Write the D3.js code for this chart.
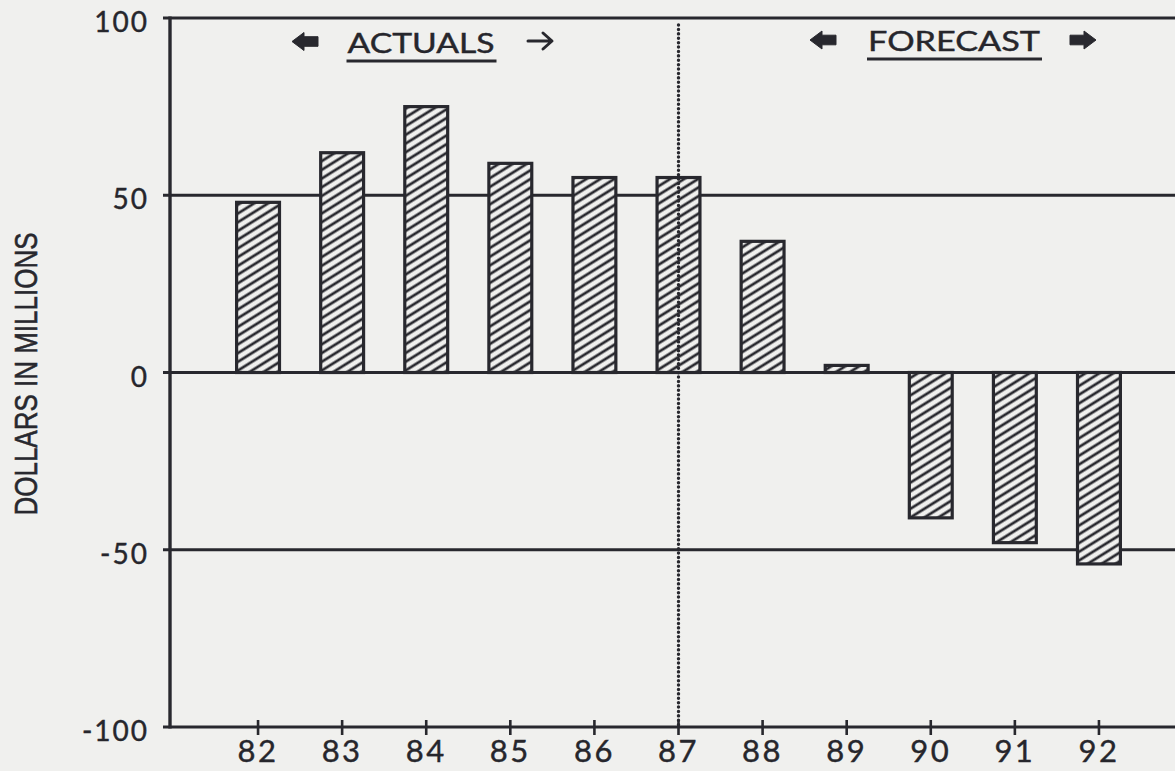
<!DOCTYPE html>
<html>
<head>
<meta charset="utf-8">
<script src="https://cdn.jsdelivr.net/npm/d3@7/dist/d3.min.js"></script>
<style>
  html, body { margin: 0; padding: 0; background: #f0f0ee; }
  svg { display: block; }
  .tick-label { font-family: Lato, "DejaVu Sans", sans-serif; fill: #26262c; stroke: #26262c; stroke-width: 0.4px; }
</style>
</head>
<body>
<svg id="chart" width="1175" height="771"></svg>
<script>
// Fiscal years shown on the horizontal axis
const years = ["82", "83", "84", "85", "86", "87", "88", "89", "90", "91", "92"];
// Net balance per year, dollars in millions (82–87 actual, 88–92 forecast)
const values = [48, 62, 75, 59, 55, 55, 37, 2, -41, -48, -54];
// Vertical axis ticks
const yTicks = [100, 50, 0, -50, -100];
const yTickLabels = ["100", "50", "0", "-50", "-100"];
// Year at which actuals end and forecast begins
const splitYear = "87";
const headerLeft = "ACTUALS";
const headerRight = "FORECAST";
const yTitle = "DOLLARS IN MILLIONS";

const ink = "#28282e";
const paper = "#f0f0ee";
const svg = d3.select("#chart");

const axisX = 170, plotRight = 1175;
const y = d3.scaleLinear().domain([-100, 100]).range([727, 18]);
const x = d3.scaleBand().domain(years).range([216, 1141]).paddingInner(0.49).paddingOuter(0.245);

// Diagonal hatch fill for the bars
const defs = svg.append("defs");
const hatch = defs.append("pattern")
  .attr("id", "hatch")
  .attr("patternUnits", "userSpaceOnUse")
  .attr("width", 12).attr("height", 7.4)
  .attr("patternTransform", "rotate(-32)");
hatch.append("rect").attr("width", 12).attr("height", 7.4).attr("fill", paper);
hatch.append("line")
  .attr("x1", -1).attr("x2", 13).attr("y1", 3.7).attr("y2", 3.7)
  .attr("stroke", ink).attr("stroke-width", 2.7);

// Horizontal rules at every tick value, running the full width
svg.append("g").selectAll("line").data(yTicks).join("line")
  .attr("x1", axisX - 7).attr("x2", plotRight)
  .attr("y1", d => y(d)).attr("y2", d => y(d))
  .attr("stroke", ink)
  .attr("stroke-width", d => (d === 100 || d === -100) ? 3.2 : 2.8);

// Vertical axis line
svg.append("line")
  .attr("x1", axisX).attr("x2", axisX)
  .attr("y1", y(100) - 1.5).attr("y2", y(-100) + 1.5)
  .attr("stroke", ink).attr("stroke-width", 3.4);

// Vertical tick labels
svg.append("g").selectAll("text").data(yTicks).join("text")
  .attr("class", "tick-label")
  .attr("x", 149)
  .attr("y", d => y(d) + 3)
  .attr("text-anchor", "end")
  .attr("dominant-baseline", "central")
  .attr("font-size", 28)
  .attr("letter-spacing", 2)
  .text((d, i) => yTickLabels[i]);

// Bottom axis ticks and year labels
const xCenter = d => x(d) + x.bandwidth() / 2;
svg.append("g").selectAll("line").data(years).join("line")
  .attr("x1", xCenter).attr("x2", xCenter)
  .attr("y1", y(-100) - 7).attr("y2", y(-100) + 8)
  .attr("stroke", ink).attr("stroke-width", 2.6);
svg.append("g").selectAll("text").data(years).join("text")
  .attr("class", "tick-label")
  .attr("x", xCenter)
  .attr("y", 762)
  .attr("text-anchor", "middle")
  .attr("font-size", 31)
  .attr("letter-spacing", 2.5)
  .text(d => d);

// Bars
svg.append("g").selectAll("rect").data(values).join("rect")
  .attr("x", (d, i) => x(years[i]))
  .attr("width", x.bandwidth())
  .attr("y", d => y(Math.max(0, d)))
  .attr("height", d => Math.abs(y(d) - y(0)))
  .attr("fill", "url(#hatch)")
  .attr("stroke", ink)
  .attr("stroke-width", 3.2);

// Dotted divider between actuals and forecast
svg.append("line")
  .attr("x1", xCenter(splitYear)).attr("x2", xCenter(splitYear))
  .attr("y1", 25).attr("y2", y(-100))
  .attr("stroke", ink).attr("stroke-width", 3.4)
  .attr("stroke-linecap", "round")
  .attr("stroke-dasharray", "0.1 4.3");

// Block arrow helper: dir = -1 points left, +1 points right
function blockArrow(cx, cy, dir) {
  const w = 26, head = 12, hh = 9, bh = 4.8;
  const tip = cx + dir * w / 2, base = tip - dir * head, tail = cx - dir * w / 2;
  const p = d3.path();
  p.moveTo(tip, cy);
  p.lineTo(base, cy - hh);
  p.lineTo(base, cy - bh);
  p.lineTo(tail, cy - bh);
  p.lineTo(tail, cy + bh);
  p.lineTo(base, cy + bh);
  p.lineTo(base, cy + hh);
  p.closePath();
  svg.append("path").attr("d", p.toString()).attr("fill", ink)
    .attr("stroke", ink).attr("stroke-width", 1).attr("stroke-linejoin", "round");
}

// Thin line arrow pointing right
function lineArrow(x0, x1, cy) {
  svg.append("path")
    .attr("d", `M${x0},${cy}H${x1 - 1}M${x1 - 9},${cy - 8}L${x1},${cy}L${x1 - 9},${cy + 8}`)
    .attr("fill", "none").attr("stroke", ink).attr("stroke-width", 3)
    .attr("stroke-linecap", "round").attr("stroke-linejoin", "round");
}

// Section headers
function header(label, cx, baseline, width) {
  svg.append("text")
    .attr("class", "tick-label")
    .attr("x", cx).attr("y", baseline)
    .attr("text-anchor", "middle")
    .attr("font-size", 26)
    .attr("textLength", width)
    .attr("lengthAdjust", "spacingAndGlyphs")
    .text(label);
  svg.append("line")
    .attr("x1", cx - width / 2 - 1).attr("x2", cx + width / 2 + 2)
    .attr("y1", baseline + 8).attr("y2", baseline + 8)
    .attr("stroke", ink).attr("stroke-width", 3);
}
header(headerLeft, 421, 53, 147);
blockArrow(305, 41.5, -1);
lineArrow(528, 552, 41);

header(headerRight, 954, 51, 172);
blockArrow(823, 40, -1);
blockArrow(1083, 40, 1);

// Axis title
svg.append("text")
  .attr("transform", `translate(37,374) rotate(-90)`)
  .attr("text-anchor", "middle")
  .attr("font-family", "\"Liberation Sans Narrow\", \"Liberation Sans\", sans-serif")
  .attr("font-size", 32)
  .attr("textLength", 283)
  .attr("lengthAdjust", "spacingAndGlyphs")
  .attr("fill", ink)
  .attr("stroke", ink).attr("stroke-width", 0.6)
  .text(yTitle);
</script>
</body>
</html>
